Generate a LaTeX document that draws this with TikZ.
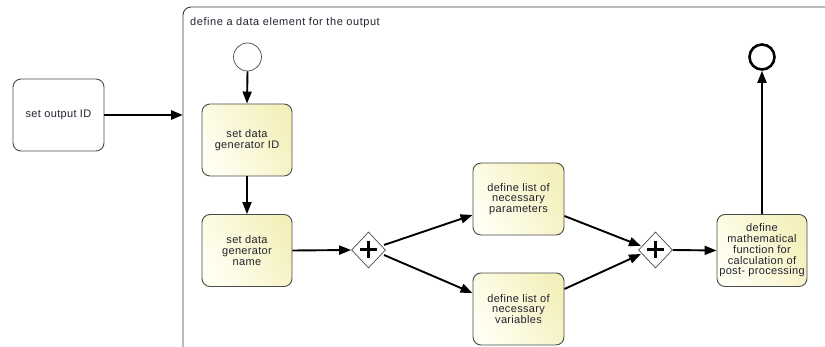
\documentclass[tikz,border=0pt]{standalone}
\usepackage{fontspec}
\setmainfont{Liberation Sans}
\usetikzlibrary{arrows.meta,shapes.geometric,calc}
\definecolor{yA}{HTML}{FFFFF2}
\definecolor{yB}{HTML}{F4F0BC}
\definecolor{bord}{HTML}{4A4A4A}
\definecolor{txt}{HTML}{22222F}
\tikzset{
  task/.style={draw=bord, line width=0.9pt, rounded corners=8pt, align=center,
    minimum width=90pt, minimum height=72pt, inner sep=1pt, text=txt,
    font=\fontsize{11}{10.8}\selectfont\addfontfeature{LetterSpace=3},
    left color=yA, right color=yB, shading angle=120},
  plaintask/.style={draw=bord, line width=0.9pt, rounded corners=8pt, align=center,
    minimum width=91pt, minimum height=72pt, inner sep=1pt, text=txt, fill=white,
    font=\fontsize{11}{10.8}\selectfont\addfontfeature{LetterSpace=3}},
  gate/.style={diamond, draw=bord, fill=white, line width=0.7pt, minimum width=34pt,
    minimum height=36pt, inner sep=0pt},
  flow/.style={line width=1.9pt, -{Triangle[length=12pt,width=9pt]}},
  plus/.style={line width=3pt}
}
\begin{document}
\begin{tikzpicture}[x=1pt,y=-1pt]
\useasboundingbox (0,0) rectangle (825,347);
\begin{scope}
\clip (0,0) rectangle (825,347);
\draw[draw=bord!80!black, line width=0.9pt, rounded corners=8pt] (183,7) rectangle (900,360);
\end{scope}
\node[anchor=base west, text=txt, font=\fontsize{11}{12}\selectfont\addfontfeature{LetterSpace=5}, inner sep=0pt]
  (title) at (190,26) {define a data element for the output};

\node[plaintask] (out) at (58.5,115) {set output ID};
\node[circle, draw=bord, fill=white, line width=0.7pt, minimum size=28pt, inner sep=0pt] (start) at (247.5,57) {};
\node[task] (genid) at (247,140) {set data\\generator ID};
\node[task] (genname) at (247,250.5) {set data\\generator\\name};
\node[gate] (gw1) at (368.5,250) {};
\node[task, minimum width=91pt] (params) at (518.5,199) {define list of\\necessary\\parameters};
\node[task, minimum width=91pt] (vars) at (518.5,309) {define list of\\necessary\\variables};
\node[gate] (gw2) at (655.5,250) {};
\node[task, inner sep=0pt] (math) at (762,250.5) {define\\mathematical\\function for\\calculation of\\post- processing};
\node[circle, draw=black, fill=white, line width=2.6pt, minimum size=25pt, inner sep=0pt] (end) at (762,57) {};

\draw[plus] ($(gw1)+(-8.5,0)$) -- ($(gw1)+(8.5,0)$);
\draw[plus] ($(gw1)+(0,-8.5)$) -- ($(gw1)+(0,8.5)$);
\draw[plus] ($(gw2)+(-8.5,0)$) -- ($(gw2)+(8.5,0)$);
\draw[plus] ($(gw2)+(0,-8.5)$) -- ($(gw2)+(0,8.5)$);

\coordinate (subL) at (183,115);
\coordinate (g1a) at (384,245);
\coordinate (g1b) at (384,255);
\coordinate (g2a) at (641,246);
\coordinate (g2b) at (641,254);
\coordinate (pin) at ($(params.west)+(0,16)$);
\coordinate (vin) at ($(vars.west)+(0,-16)$);
\coordinate (pout) at ($(params.east)+(0,17)$);
\coordinate (vout) at ($(vars.east)+(0,-20)$);

\draw[flow, line width=2.8pt] (out.east) -- (subL);
\draw[flow] (start.south) -- (genid.north);
\draw[flow] (genid.south) -- (genname.north);
\draw[flow] (genname.east) -- (gw1.west);
\draw[flow] (g1a) -- (pin);
\draw[flow] (g1b) -- (vin);
\draw[flow] (pout) -- (g2a);
\draw[flow] (vout) -- (g2b);
\draw[flow] (gw2.east) -- (math.west);
\draw[flow] (math.north) -- (end.south);
\end{tikzpicture}
\end{document}
